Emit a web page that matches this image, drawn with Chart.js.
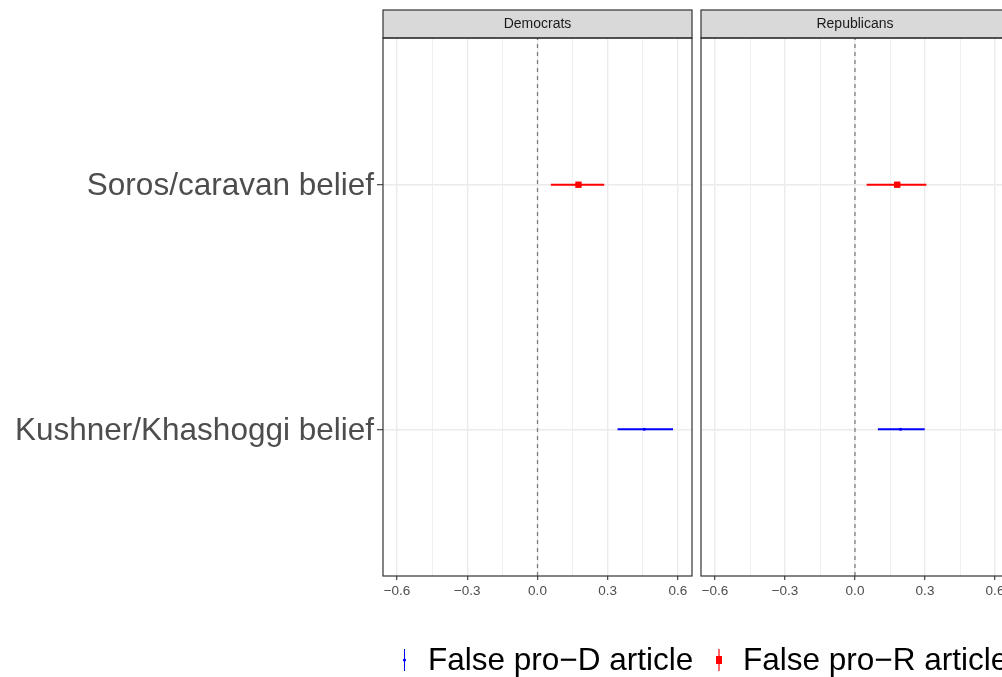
<!DOCTYPE html>
<html><head><meta charset="utf-8">
<script src="https://cdn.jsdelivr.net/npm/chart.js@4"></script>
<style>
html,body{margin:0;padding:0;background:#fff;overflow:hidden;width:1002px;height:677px}
#wrap{position:relative;width:1002px;height:677px;overflow:hidden}
canvas{position:absolute;left:0;top:0}
</style></head><body>
<div id="wrap"><canvas id="c1" width="1020" height="677" style="width:1020px;height:677px"></canvas><canvas id="c2" width="1020" height="677" style="width:1020px;height:677px"></canvas></div>
<script>
// ---- data ----
const panels = ['Democrats', 'Republicans'];
const categories = ['Kushner/Khashoggi belief', 'Soros/caravan belief']; // y = 1, 2
const seriesNames = ['False pro\u2212D article', 'False pro\u2212R article'];
const seriesColors = ['#0000ff', '#ff0000'];
const majorTicks = [-0.6, -0.3, 0, 0.3, 0.6];
const minorTicks = [-0.45, -0.15, 0.15, 0.45];
// per panel: [pro-D on Kushner row, pro-R on Soros row]
const demEst = [0.456, 0.175];
const demLo  = [0.342, 0.057];
const demHi  = [0.579, 0.285];
const repEst = [0.195, 0.181];
const repLo  = [0.098, 0.050];
const repHi  = [0.299, 0.306];

const FONT = '"Liberation Sans", Arial, Helvetica, sans-serif';
const fmt = v => (v < 0 ? '\u2212' : '') + Math.abs(v).toFixed(1);
const allTicks = majorTicks.concat(minorTicks).sort((a, b) => a - b);
const isMajor = v => majorTicks.some(m => Math.abs(m - v) < 1e-9);

function makeDatasets(est, lo, hi) {
  return [
    { data: [{x: est[0], y: 1}], pointStyle: 'circle', pointRadius: 1.6, backgroundColor: seriesColors[0], borderColor: seriesColors[0], borderWidth: 0 },
    { data: [{x: est[1], y: 2}], pointStyle: 'rect', pointRadius: 4.5, backgroundColor: seriesColors[1], borderColor: seriesColors[1], borderWidth: 0 },
    { data: [{x: lo[0], y: 1}, {x: hi[0], y: 1}], showLine: true, pointRadius: 0, borderColor: seriesColors[0], borderWidth: 2 },
    { data: [{x: lo[1], y: 2}, {x: hi[1], y: 2}], showLine: true, pointRadius: 0, borderColor: seriesColors[1], borderWidth: 2 },
    { data: [{x: 0, y: 0.4}, {x: 0, y: 2.6}], showLine: true, pointRadius: 0, borderColor: '#7f7f7f', borderWidth: 1.3, borderDash: [4, 4] }
  ];
}

const panelPlugin = {
  id: 'panel',
  afterDraw(chart, args, opts) {
    const {ctx, chartArea: a} = chart;
    ctx.save();
    // strip
    ctx.fillStyle = '#d9d9d9';
    ctx.fillRect(a.left, 10, a.right - a.left, a.top - 10);
    ctx.strokeStyle = '#333333';
    ctx.lineWidth = 1.2;
    ctx.strokeRect(a.left, 10, a.right - a.left, a.top - 10);
    ctx.fillStyle = '#1a1a1a';
    ctx.font = '14px ' + FONT;
    ctx.textAlign = 'center';
    ctx.textBaseline = 'middle';
    ctx.fillText(opts.title, (a.left + a.right) / 2, (10 + a.top) / 2 + 0.5);
    // panel border
    ctx.strokeRect(a.left, a.top, a.right - a.left, a.bottom - a.top);
    // legend
    if (opts.legend) {
      const ly = 660;
      ctx.font = '31.5px ' + FONT;
      ctx.textAlign = 'left';
      ctx.textBaseline = 'middle';
      // blue key
      ctx.strokeStyle = seriesColors[0]; ctx.lineWidth = 1;
      ctx.beginPath(); ctx.moveTo(404.5, 649); ctx.lineTo(404.5, 671); ctx.stroke();
      ctx.fillStyle = seriesColors[0];
      ctx.beginPath(); ctx.arc(404.5, ly, 1.6, 0, Math.PI * 2); ctx.fill();
      ctx.fillStyle = '#000';
      ctx.fillText(seriesNames[0], 428, ly + 1);
      // red key
      ctx.strokeStyle = seriesColors[1]; ctx.lineWidth = 1.2;
      ctx.beginPath(); ctx.moveTo(719, 649); ctx.lineTo(719, 671); ctx.stroke();
      ctx.fillStyle = seriesColors[1];
      ctx.fillRect(716, 656, 6, 8);
      ctx.fillStyle = '#000';
      ctx.fillText(seriesNames[1], 743, ly + 1);
    }
    ctx.restore();
  }
};

function makeChart(id, title, est, lo, hi, first) {
  const W = 1020;
  const left = first ? 0 : 701;
  const right = first ? 692 : 1009;
  return new Chart(document.getElementById(id), {
    type: 'scatter',
    data: { datasets: makeDatasets(est, lo, hi) },
    plugins: [panelPlugin],
    options: {
      responsive: false,
      animation: false,
      events: [],
      layout: { padding: { left: left, right: W - right, top: 38, bottom: 0 } },
      plugins: { legend: { display: false }, tooltip: { enabled: false }, panel: { title: title, legend: first } },
      scales: {
        x: {
          type: 'linear', min: -0.66, max: 0.66,
          afterBuildTicks: s => { s.ticks = allTicks.map(v => ({value: v})); },
          afterFit: s => { s.height = 101; },
          border: { display: false },
          grid: {
            color: '#ebebeb',
            lineWidth: c => (c.tick && isMajor(c.tick.value)) ? 1.4 : 0.8,
            tickColor: c => (c.tick && isMajor(c.tick.value)) ? '#333333' : 'rgba(0,0,0,0)',
            tickWidth: 1.1,
            tickLength: 4,
            drawOnChartArea: true
          },
          ticks: {
            autoSkip: false, maxRotation: 0, padding: 3,
            color: '#4d4d4d', font: { family: FONT, size: 13.5 },
            callback: v => isMajor(v) ? fmt(v) : ''
          }
        },
        y: {
          type: 'linear', min: 0.4, max: 2.6,
          afterBuildTicks: s => { s.ticks = categories.map((c, i) => ({value: i + 1})); },
          afterFit: s => { s.width = first ? 383 : 0; },
          border: { display: false },
          grid: {
            color: '#ebebeb', lineWidth: 1.4,
            tickColor: '#333333', tickWidth: 1.1,
            tickLength: first ? 6 : 0,
            drawTicks: first
          },
          ticks: {
            display: first, autoSkip: false, padding: 3, labelOffset: 2,
            color: '#4d4d4d', font: { family: FONT, size: 31.5 },
            callback: v => categories[Math.round(v) - 1] || ''
          }
        }
      }
    }
  });
}

makeChart('c1', panels[0], demEst, demLo, demHi, true);
makeChart('c2', panels[1], repEst, repLo, repHi, false);
</script>
</body></html>
